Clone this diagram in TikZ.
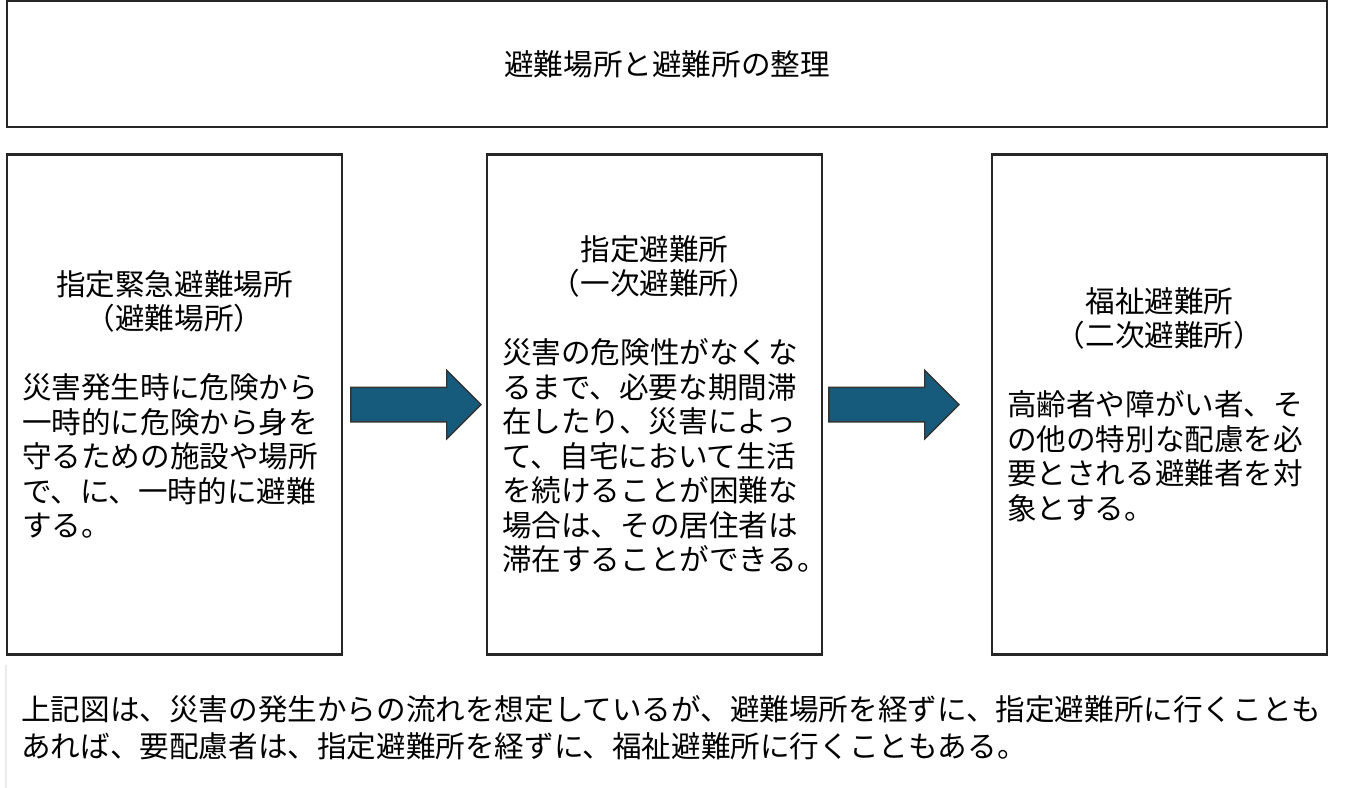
\documentclass[tikz,border=0pt]{standalone}
\usepackage{fontspec}
\setmainfont{Noto Sans CJK JP}
\usetikzlibrary{shapes.arrows, positioning, calc}
\definecolor{arrowblue}{HTML}{175B7C}
\newcommand{\jtext}{\fontsize{14.8pt}{17.25pt}\selectfont}

\begin{document}
\begin{tikzpicture}[
    titlebox/.style = {rectangle, draw=black!85, line width=1.2pt, minimum width=660pt, minimum height=63pt, inner sep=0pt, font=\jtext},
    infobox/.style = {rectangle, draw=black!85, line width=1.2pt, minimum width=167.5pt, minimum height=250pt, text width=152.5pt, inner xsep=7.5pt, inner ysep=0pt, font=\jtext},
    flowarrow/.style = {single arrow, draw=black!80, line width=0.7pt, fill=arrowblue, minimum width=33.5pt, minimum height=65pt, single arrow head extend=8.5pt, inner xsep=0pt, inner ysep=8.25pt},
    notebox/.style = {rectangle, text width=652pt, align=left, minimum height=62.5pt, inner xsep=7.5pt, inner ysep=0pt, font=\jtext}
]
\useasboundingbox (0,0) rectangle (682pt,-393.5pt);

% Title
\node[titlebox, anchor=north west] (title) at (2.9pt,0pt) {避難場所と避難所の整理};

% Boxes
\node[infobox, below=12.5pt of title.south west, anchor=north west] (shelter1) {%
  \centering 指定緊急避難場所\\（避難場所）\par
  \vspace{\baselineskip}\raggedright
  災害発生時に危険から\\一時的に危険から身を\\守るための施設や場所\\で、に、一時的に避難\\する。\par\vspace{4pt}};
\node[infobox, right=71.3pt of shelter1] (shelter2) {%
  \centering 指定避難所\\（一次避難所）\par
  \vspace{\baselineskip}\raggedright
  災害の危険性がなくな\\るまで、必要な期間滞\\在したり、災害によっ\\て、自宅において生活\\を続けることが困難な\\場合は、その居住者は\\滞在することができる。\par\vspace{4pt}};
\node[infobox, right=83.8pt of shelter2] (shelter3) {%
  \centering 福祉避難所\\（二次避難所）\par
  \vspace{\baselineskip}\raggedright
  高齢者や障がい者、そ\\の他の特別な配慮を必\\要とされる避難者を対\\象とする。\par\vspace{4pt}};

% Arrows
\node[flowarrow, anchor=tail] (arrow1) at ([xshift=3.5pt]shelter1.east) {};
\node[flowarrow, anchor=tail] (arrow2) at ([xshift=2.5pt]shelter2.east) {};

% Note
\node[notebox, below=4.5pt of shelter1.south west, anchor=north west] (remark) {%
  上記図は、災害の発生からの流れを想定しているが、避難場所を経ずに、指定避難所に行くことも\\[1pt]あれば、要配慮者は、指定避難所を経ずに、福祉避難所に行くこともある。\par\vspace{4pt}};
\draw[black!8, line width=0.8pt] (remark.north west) -- (remark.south west);

\end{tikzpicture}
\end{document}
